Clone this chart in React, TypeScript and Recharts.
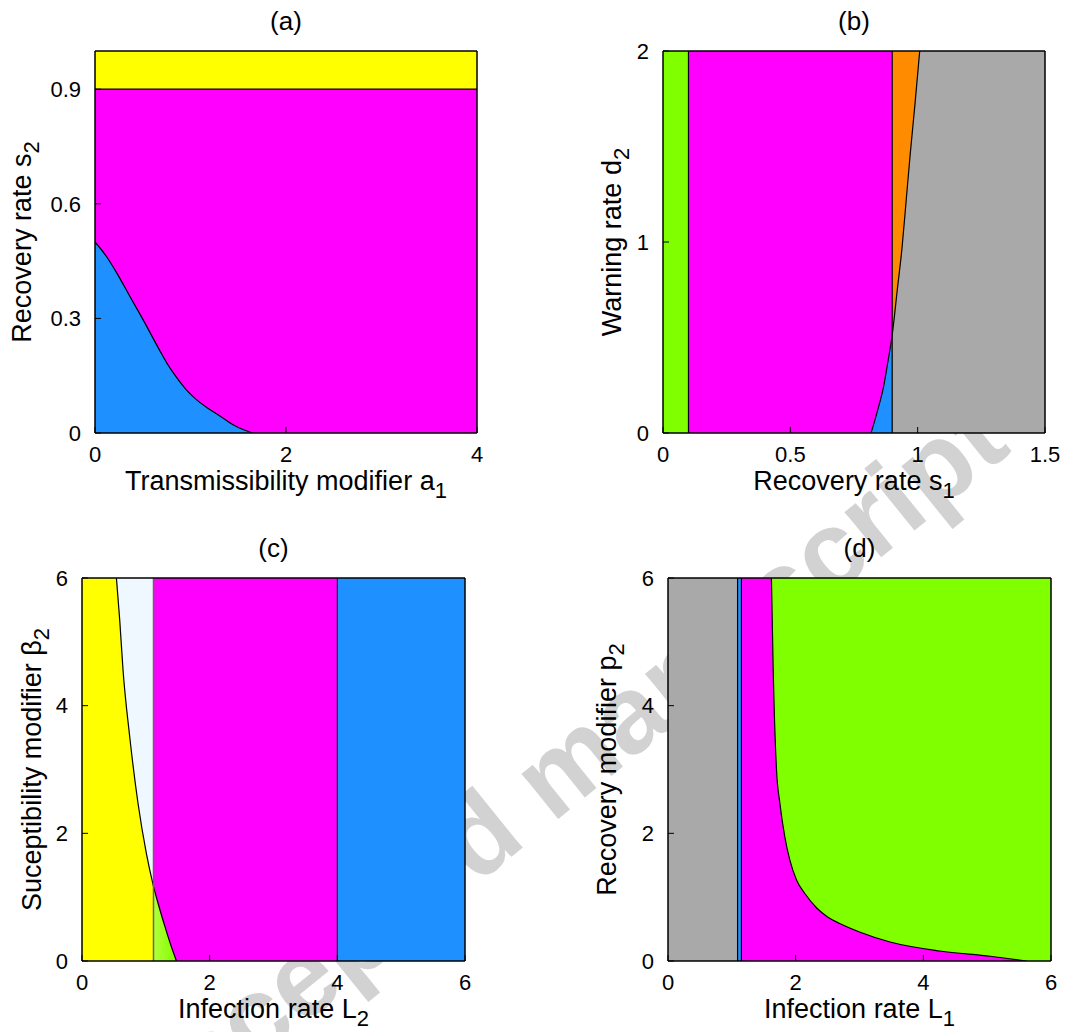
import React from 'react';
import { ComposedChart, Area, Line, XAxis, YAxis, ReferenceLine } from 'recharts';

const FONT = '"Liberation Sans", Arial, Helvetica, sans-serif';

// (a) transmissibility modifier a1 vs recovery rate s2
const aXTicks = [0, 2, 4];
const aYTicks = [0, 0.3, 0.6, 0.9];
const aTop = 1;
const aYellowFrom = 0.9;
const aCurveA1 = [0, 0.12, 0.23, 0.36, 0.5, 0.68, 0.75, 0.85, 0.95, 1.05, 1.17, 1.3, 1.45, 1.55, 1.65];
const aCurveS2 = [0.5, 0.462, 0.418, 0.36, 0.298, 0.215, 0.184, 0.147, 0.115, 0.09, 0.067, 0.046, 0.021, 0.009, 0];

// (b) recovery rate s1 vs warning rate d2
const bXTicks = [0, 0.5, 1, 1.5];
const bYTicks = [0, 1, 2];
const bTop = 2;
const bGreenEnd = 0.1;
const bMagentaEnd = 0.9;
const bCurveS1 = [0.817, 0.843, 0.866, 0.884, 0.9, 0.92, 0.939, 0.955, 0.971, 0.99, 1.008];
const bCurveD2 = [0, 0.12, 0.242, 0.38, 0.513, 0.75, 0.975, 1.22, 1.464, 1.73, 2.0];

// (c) infection rate L2 vs susceptibility modifier beta2
const cXTicks = [0, 2, 4, 6];
const cYTicks = [0, 2, 4, 6];
const cTop = 6;
const cSplit = 1.12;
const cBlueFrom = 4;
const cCurveL2 = [0.539, 0.591, 0.643, 0.748, 0.878, 1.009, 1.12, 1.207, 1.296, 1.386, 1.48];
const cCurveB2 = [6, 5.34, 4.556, 3.51, 2.467, 1.683, 1.17, 0.85, 0.55, 0.265, 0];

// (d) infection rate L1 vs recovery modifier p2
const dXTicks = [0, 2, 4, 6];
const dYTicks = [0, 2, 4, 6];
const dTop = 6;
const dGrayEnd = 1.09;
const dBlueEnd = 1.15;
const dCurveL1 = [1.62, 1.648, 1.7, 1.753, 1.83, 1.909, 2.015, 2.15, 2.33, 2.5, 2.69, 3.0, 3.48, 4.26, 5.05, 5.62];
const dCurveP2 = [6, 4.56, 2.99, 2.47, 1.946, 1.58, 1.266, 1.05, 0.83, 0.69, 0.587, 0.455, 0.298, 0.157, 0.074, 0];

const pts = (xs: number[], ys: number[]) => xs.map((x, i) => ({ x, y: ys[i] }));
const rect = (x0: number, x1: number, top: number) => [{ x: x0, y: top }, { x: x1, y: top }];

const PAD_L = 100, PAD_T = 60, PAD_R = 20, PAD_B = 80;

const AxisText = (props: any) => {
  const { viewBox, kind, main, sub, gap } = props;
  const { x, y, width, height } = viewBox;
  const common = { fontFamily: FONT, fill: '#000' };
  if (kind === 'title') {
    return <text x={x + width / 2} y={y + height - 21} textAnchor="middle" fontSize={26} {...common}>{main}</text>;
  }
  if (kind === 'x') {
    return (
      <text x={x + width / 2} y={y + 57} textAnchor="middle" fontSize={27} {...common}>
        {main}<tspan dy={8} fontSize={22}>{sub}</tspan>
      </text>
    );
  }
  const bx = x + width - gap;
  const cy = y + height / 2;
  return (
    <text x={bx} y={cy} transform={`rotate(-90 ${bx} ${cy})`} textAnchor="middle" fontSize={27} {...common}>
      {main}<tspan dy={8} fontSize={22}>{sub}</tspan>
    </text>
  );
};

const tickStyle = { fontSize: 22, fill: '#000', fontFamily: FONT };
const axisLine = { stroke: '#000', strokeWidth: 1.5 };
const tickLine = { stroke: '#000', strokeWidth: 1 };

function Panel(props: any) {
  const { box, title, xDomain, yDomain, xTicks, yTicks, xLabel, xSub, yLabel, ySub, gap, children } = props;
  return (
    <div style={{ position: 'absolute', left: box.left - PAD_L, top: box.top - PAD_T }}>
      <ComposedChart
        width={box.width + PAD_L + PAD_R}
        height={box.height + PAD_T + PAD_B}
        margin={{ top: PAD_T - 1, right: PAD_R - 1, bottom: PAD_B - 40, left: PAD_L - 60 }}
      >
        <defs>
          <linearGradient id="greenFade" x1="0" y1="0" x2="1" y2="0">
            <stop offset="0%" stopColor="#B2FF3A" />
            <stop offset="100%" stopColor="#7FFF00" />
          </linearGradient>
        </defs>
        {children}
        <XAxis type="number" dataKey="x" domain={xDomain} ticks={xTicks} interval={0} height={40}
          allowDataOverflow axisLine={axisLine} tickLine={tickLine} tickSize={-6} tickMargin={19} tick={tickStyle}
          label={<AxisText kind="x" main={xLabel} sub={xSub} />} />
        <XAxis xAxisId="top" orientation="top" type="number" dataKey="x" domain={xDomain} ticks={xTicks} interval={0}
          height={1} allowDataOverflow axisLine={axisLine} tickLine={tickLine} tickSize={-6} tick={false}
          label={<AxisText kind="title" main={title} />} />
        <YAxis type="number" domain={yDomain} ticks={yTicks} interval={0} width={60}
          allowDataOverflow axisLine={axisLine} tickLine={tickLine} tickSize={-6} tickMargin={20} tick={tickStyle}
          label={<AxisText kind="y" main={yLabel} sub={ySub} gap={gap} />} />
        <YAxis yAxisId="right" orientation="right" type="number" domain={yDomain} ticks={yTicks} interval={0} width={1}
          allowDataOverflow axisLine={axisLine} tickLine={tickLine} tickSize={-6} tick={false} />
      </ComposedChart>
    </div>
  );
}

const region = (data: any[], fill: string, curved = false) => (
  <Area data={data} dataKey="y" type={curved ? 'monotone' : 'linear'} fill={fill} fillOpacity={1}
    stroke="none" baseValue={0} isAnimationActive={false} dot={false} activeDot={false} />
);
const edge = (data: any[]) => (
  <Line data={data} dataKey="y" type="monotone" stroke="#000" strokeWidth={1.2} dot={false}
    activeDot={false} isAnimationActive={false} />
);

export default function App() {
  const aCurve = pts(aCurveA1, aCurveS2);
  const bCurve = pts(bCurveS1, bCurveD2);
  const cCurve = pts(cCurveL2, cCurveB2);
  const dCurve = pts(dCurveL1, dCurveP2);
  const xMaxB = bXTicks[bXTicks.length - 1];

  return (
    <div style={{ position: 'absolute', left: 0, top: 0, width: 1068, height: 1032, background: '#fff', overflow: 'hidden' }}>
      <svg width={1068} height={1032} style={{ position: 'absolute', left: 0, top: 0 }}>
        <text x={560} y={780} transform="rotate(-39 560 780)" textAnchor="middle" dominantBaseline="middle"
          fontSize={110} fontWeight="bold" fontFamily={FONT} fill="#d2d2d2">Accepted manuscript</text>
      </svg>

      <Panel box={{ left: 95, top: 51, width: 382, height: 382 }} title="(a)" xDomain={[0, 4]} yDomain={[0, aTop]}
        xTicks={aXTicks} yTicks={aYTicks} xLabel="Transmissibility modifier a" xSub="1" yLabel="Recovery rate s" ySub="2" gap={64}>
        {region(rect(0, 4, aTop), '#FFFF00')}
        {region(rect(0, 4, aYellowFrom), '#FF00FF')}
        {region(aCurve, '#1E90FF', true)}
        {edge(aCurve)}
        <ReferenceLine y={aYellowFrom} stroke="#000" strokeWidth={1.2} />
      </Panel>

      <Panel box={{ left: 663, top: 51, width: 382, height: 382 }} title="(b)" xDomain={[0, 1.5]} yDomain={[0, bTop]}
        xTicks={bXTicks} yTicks={bYTicks} xLabel="Recovery rate s" xSub="1" yLabel="Warning rate d" ySub="2" gap={42}>
        {region(rect(0, bGreenEnd, bTop), '#7FFF00')}
        {region(rect(bGreenEnd, bMagentaEnd, bTop), '#FF00FF')}
        {region(rect(bMagentaEnd, xMaxB, bTop), '#FF8C00')}
        {region(bCurve.filter((p) => p.x <= bMagentaEnd), '#1E90FF', true)}
        {region([...bCurve.filter((p) => p.x >= bMagentaEnd), { x: xMaxB, y: bTop }], '#A9A9A9', true)}
        {edge(bCurve)}
        <ReferenceLine x={bGreenEnd} stroke="#000" strokeWidth={1.2} />
        <ReferenceLine x={bMagentaEnd} stroke="#000" strokeWidth={1.2} />
      </Panel>

      <Panel box={{ left: 82, top: 578, width: 383, height: 383 }} title="(c)" xDomain={[0, 6]} yDomain={[0, cTop]}
        xTicks={cXTicks} yTicks={cYTicks} xLabel="Infection rate L" xSub="2" yLabel="Suceptibility modifier β" ySub="2" gap={41}>
        {region(rect(0, cSplit, cTop), '#F0F8FF')}
        {region(rect(cSplit, cBlueFrom, cTop), '#FF00FF')}
        {region(rect(cBlueFrom, 6, cTop), '#1E90FF')}
        {region([{ x: 0, y: cTop }, ...cCurve.filter((p) => p.x <= cSplit)], '#FFFF00', true)}
        {region(cCurve.filter((p) => p.x >= cSplit), 'url(#greenFade)', true)}
        {edge(cCurve)}
        <ReferenceLine x={cSplit} stroke="#666" strokeWidth={1.5} />
        <ReferenceLine x={cBlueFrom} stroke="#222" strokeWidth={1.2} />
      </Panel>

      <Panel box={{ left: 668, top: 578, width: 383, height: 383 }} title="(d)" xDomain={[0, 6]} yDomain={[0, dTop]}
        xTicks={dXTicks} yTicks={dYTicks} xLabel="Infection rate L" xSub="1" yLabel="Recovery modifier p" ySub="2" gap={52}>
        {region(rect(0, dGrayEnd, dTop), '#A9A9A9')}
        {region(rect(dGrayEnd, dBlueEnd, dTop), '#1E90FF')}
        {region(rect(dBlueEnd, 6, dTop), '#7FFF00')}
        {region([{ x: dBlueEnd, y: dTop }, ...dCurve], '#FF00FF', true)}
        {edge(dCurve)}
        <ReferenceLine x={dGrayEnd} stroke="#000" strokeWidth={1.2} />
        <ReferenceLine x={dBlueEnd} stroke="#000" strokeWidth={1.2} />
      </Panel>
    </div>
  );
}
